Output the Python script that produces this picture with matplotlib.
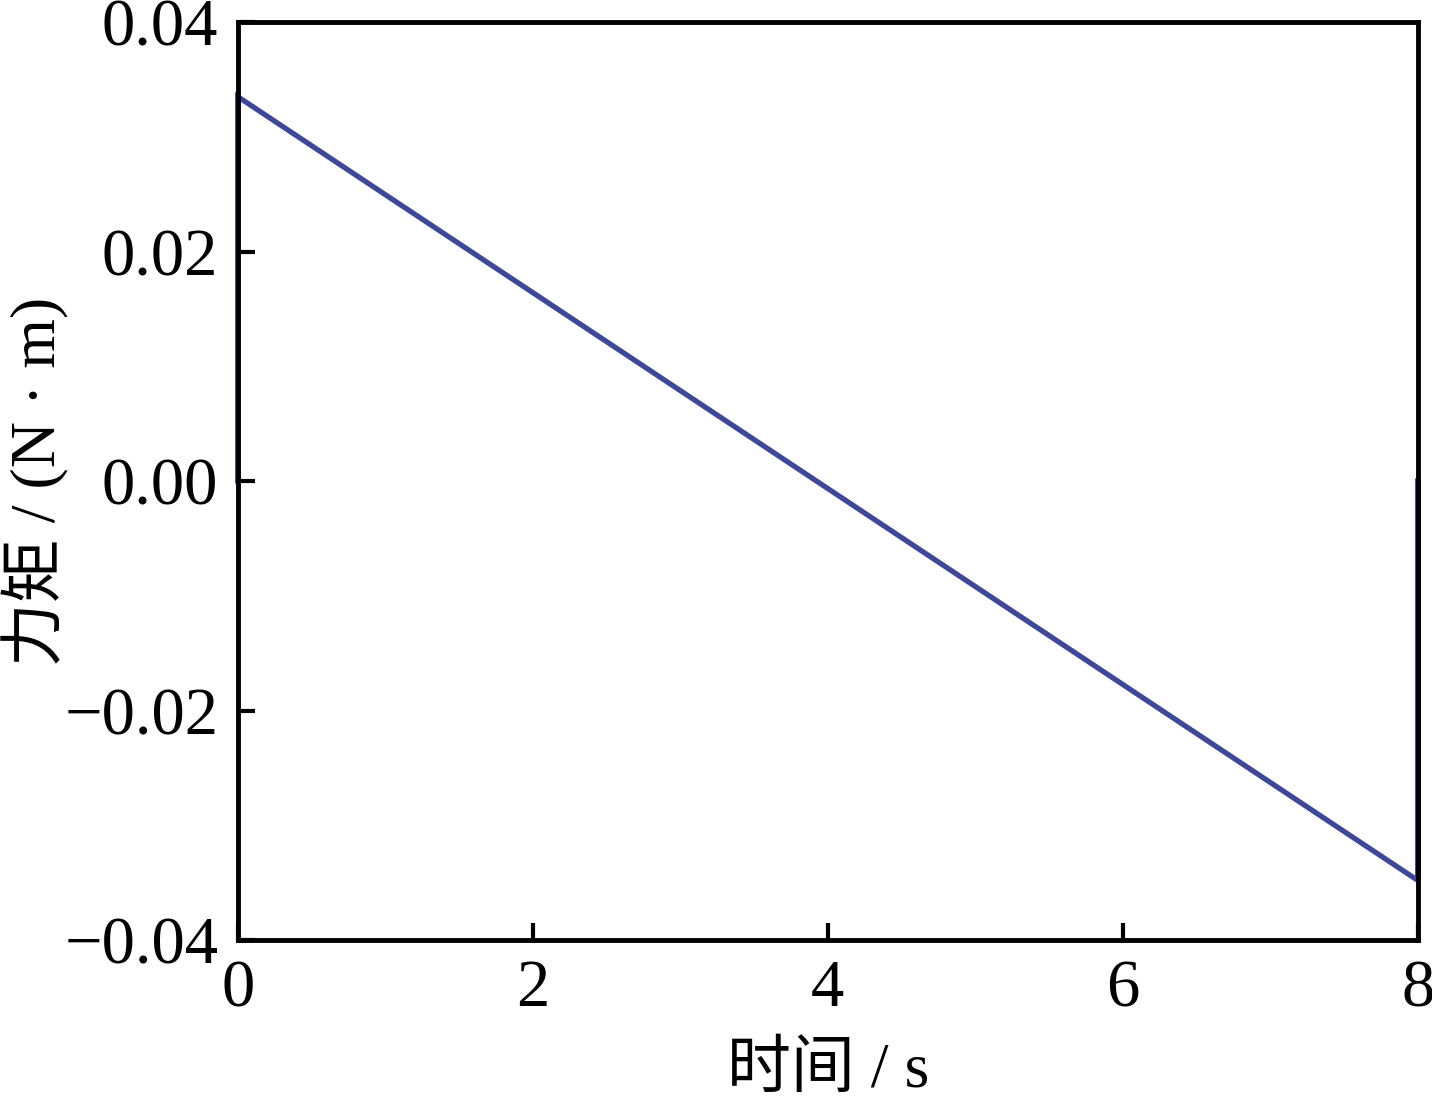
import matplotlib
matplotlib.use('Agg')
import matplotlib.pyplot as plt

# time (s) and torque (N·m)
time_s = [0.0, 0.0, 8.0, 8.0]
torque = [0.0, 0.0335, -0.0348, 0.0]

x_ticks = [0, 2, 4, 6, 8]
y_ticks = [-0.04, -0.02, 0.00, 0.02, 0.04]

plt.rcParams['font.family'] = ['Liberation Serif', 'Noto Sans CJK SC']
plt.rcParams['axes.unicode_minus'] = True

fig = plt.figure(figsize=(14.32, 11.02), dpi=100)
ax = fig.add_axes([0.166, 0.147, 0.824, 0.833])

ax.plot(time_s, torque, color='#3d4898', lw=3.8, solid_joinstyle='miter',
        clip_on=False)

ax.set_xlim(0, 8)
ax.set_ylim(-0.04, 0.04)
ax.set_xticks(x_ticks)
ax.set_yticks(y_ticks)
ax.set_yticklabels([f'{v:.2f}'.replace('-', '\u2212') for v in y_ticks])

ax.tick_params(direction='in', length=12, width=3, labelsize=48,
               top=False, right=False, pad=14)
for s in ax.spines.values():
    s.set_linewidth(3.5)

ax.set_xlabel('时间 / s', fontsize=46)
ax.set_ylabel('力矩 / (N · m)', fontsize=46)
ax.xaxis.set_label_coords(0.5, -0.112)
ax.yaxis.set_label_coords(-0.143, 0.5)

fig.savefig('out.png', dpi=100)
